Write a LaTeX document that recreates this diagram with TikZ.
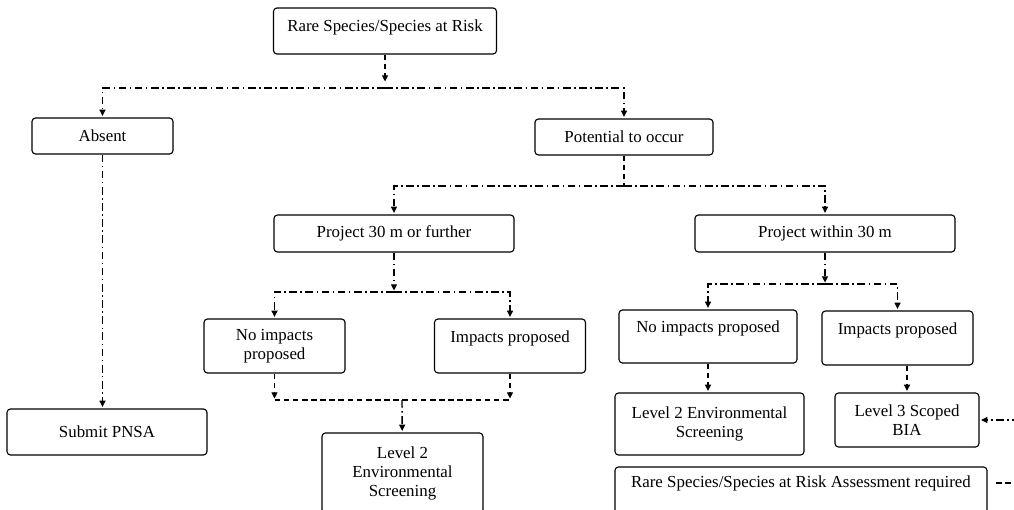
\documentclass[tikz,border=0pt]{standalone}
\usepackage{fontspec}
\setmainfont{Liberation Serif}
\usetikzlibrary{arrows.meta}

\begin{document}
\begin{tikzpicture}[x=0.025cm, y=-0.025cm,
  box/.style={draw, rounded corners=2.5pt, line width=0.8pt, align=center,
    inner sep=0pt, font=\fontsize{12}{13.5}\selectfont},
  dd/.style={line width=1pt, dash pattern=on 5.5pt off 2.5pt on 1pt off 2.5pt, shorten >=1pt},
  ds/.style={line width=1pt, dash pattern=on 4pt off 2.5pt, shorten >=1pt},
  >={Triangle[length=4.5pt,width=4.2pt]}]
\path[use as bounding box, clip] (0,0) rectangle (1014,510);
\node[box, minimum width=5.575cm, minimum height=1.15cm] (RS) at (385,31) {Rare Species/Species at Risk\\[-6.5pt]\mbox{}};
\node[box, minimum width=3.525cm, minimum height=0.9cm] (Ab) at (102.5,136) {Absent};
\node[box, minimum width=4.45cm, minimum height=0.9cm] (Pot) at (624,137) {Potential to occur};
\node[box, minimum width=6cm, minimum height=0.925cm] (P30) at (394,233.5) {Project 30 m or further};
\node[box, minimum width=6.5cm, minimum height=0.925cm] (W30) at (825,233.5) {Project within 30 m};
\node[box, minimum width=5cm, minimum height=1.15cm] (PN) at (107,432) {Submit PNSA};
\node[box, minimum width=3.525cm, minimum height=1.35cm] (NI1) at (274.5,346) {No impacts\\proposed};
\node[box, minimum width=3.775cm, minimum height=1.35cm] (IP1) at (510,346) {Impacts proposed\\\mbox{}};
\node[box, minimum width=4.025cm, minimum height=2cm] (L21) at (402.5,473) {Level 2\\Environmental\\Screening};
\node[box, minimum width=4.45cm, minimum height=1.325cm] (NI2) at (708,336.5) {No impacts proposed\\\mbox{}};
\node[box, minimum width=3.775cm, minimum height=1.35cm] (IP2) at (897.5,338) {Impacts proposed\\\mbox{}};
\node[box, minimum width=4.725cm, minimum height=1.55cm] (L22) at (709.5,424) {Level 2 Environmental\\Screening};
\node[box, minimum width=3.6cm, minimum height=1.35cm] (L3) at (907,420) {Level 3 Scoped\\BIA};
\node[box, minimum width=9.3cm, minimum height=1.2cm] (RSA) at (801,491) {Rare Species/Species at Risk Assessment required\\\mbox{}};
% top level
\coordinate (t1) at (385,83);
\coordinate (b1) at (385,88);
\draw [ds,->] (RS) -- (t1);
\draw [dd,->] (b1) -| (Ab);
\draw [dd,->] (b1) -| (Pot);
\draw [dd,->] (Ab) -- (Ab |- PN.north);
% potential to occur
\coordinate (b2) at (624,186);
\draw [ds] (Pot) -- (b2);
\draw [dd,->] (b2) -| (P30);
\draw [dd,->] (b2) -| (W30);
% 30 m or further
\coordinate (b3) at (394,292);
\draw [dd,->] (P30) -- (b3);
\draw [dd,->] (b3) -| (NI1);
\draw [dd,->] (b3) -| (IP1);
\coordinate (b4) at (402,400);
\draw [ds,->] (NI1) -- (NI1 |- b4);
\draw [ds,->] (IP1) -- (IP1 |- b4);
\draw [ds] (NI1 |- b4) -- (IP1 |- b4);
\draw [dd,->] (b4) -- (L21);
% within 30 m
\coordinate (b5) at (825,284);
\draw [dd,->] (W30) -- (b5);
\draw [dd,->] (b5) -| (NI2);
\draw [dd,->] (b5) -| (IP2);
\draw [ds,->] (NI2) -- (NI2 |- L22.north);
\draw [ds,->] (L3 |- IP2.south) -- (L3);
\coordinate (e1) at (1020,420);
\coordinate (e2) at (1020,483);
\draw [dd,->] (e1) -- (L3);
\draw [ds, shorten <=6pt] (RSA.east |- e2) -- (e2);
\end{tikzpicture}
\end{document}
